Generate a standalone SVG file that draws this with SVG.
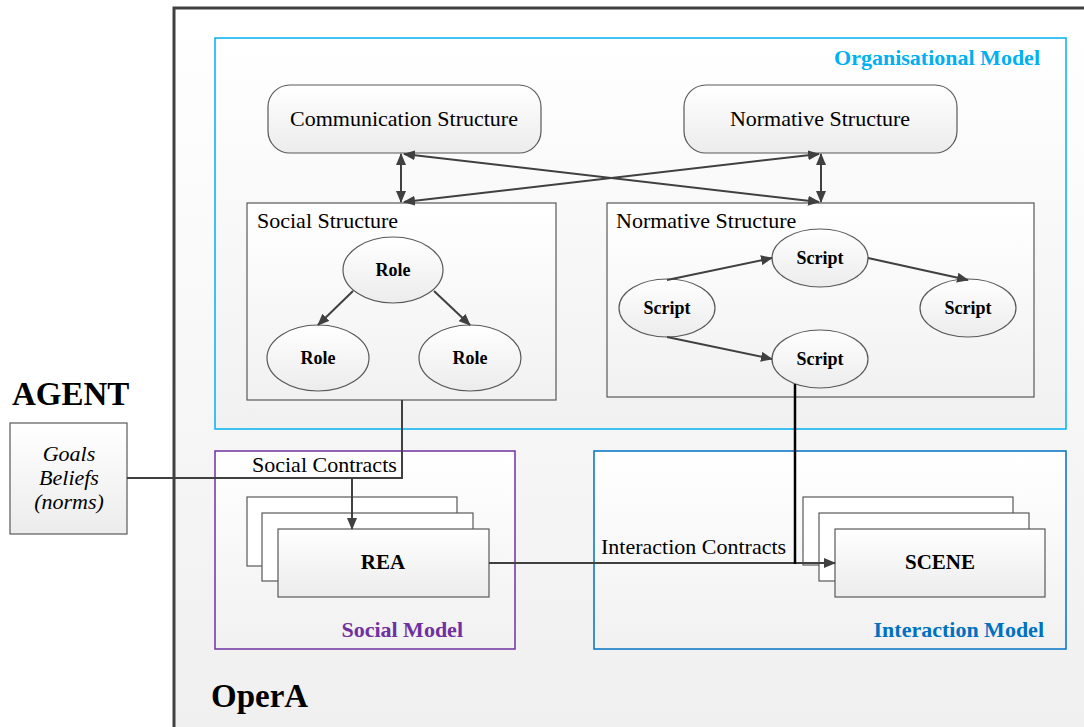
<svg xmlns="http://www.w3.org/2000/svg" width="1084" height="727" viewBox="0 0 1084 727">
<defs>
<linearGradient id="gBg" x1="0" y1="0" x2="0" y2="1"><stop offset="0" stop-color="#ffffff"/><stop offset="1" stop-color="#eeeeee"/></linearGradient>
<linearGradient id="gNode" x1="0" y1="0" x2="0" y2="1"><stop offset="0" stop-color="#ffffff"/><stop offset="1" stop-color="#ececec"/></linearGradient>
<linearGradient id="gPanel" x1="0" y1="0" x2="0" y2="1"><stop offset="0" stop-color="#ffffff"/><stop offset="1" stop-color="#f1f1f1"/></linearGradient>
<marker id="ah" viewBox="0 0 12 10" refX="11" refY="5" markerWidth="12" markerHeight="10" markerUnits="userSpaceOnUse" orient="auto-start-reverse"><path d="M0,0 L12,5 L0,10 Z" fill="#404040"/></marker>
<style>
.t{font-family:"Liberation Serif","Times New Roman",serif;fill:#000}
.n{font-size:22px}
.b{font-weight:bold}
.node{fill:url(#gNode);stroke:#595959;stroke-width:1.2}
.panel{fill:url(#gPanel);stroke:#595959;stroke-width:1.2}
.conn{fill:none;stroke:#404040;stroke-width:2}
.arr{fill:none;stroke:#404040;stroke-width:2;marker-end:url(#ah)}
.darr{fill:none;stroke:#404040;stroke-width:2;marker-start:url(#ah);marker-end:url(#ah)}
</style>
</defs>
<rect width="1084" height="727" fill="#ffffff"/>
<g id="opera">
<rect x="174" y="8" width="1000" height="800" fill="url(#gBg)" stroke="#404040" stroke-width="3"/>
<text class="t b" x="211" y="707" font-size="33">OperA</text>
</g>
<g id="organisational-model">
<rect x="215" y="38" width="851" height="391" fill="url(#gPanel)" stroke="#00B0F0" stroke-width="1.5"/>
<text class="t b" x="1040" y="65" font-size="22" text-anchor="end" style="fill:#00B0F0">Organisational Model</text>
</g>
<g id="communication-structure">
<rect class="node" x="268" y="85" width="273" height="68" rx="22"/>
<text class="t n" x="404" y="126" text-anchor="middle">Communication Structure</text>
</g>
<g id="normative-structure-top">
<rect class="node" x="684" y="85" width="273" height="68" rx="22"/>
<text class="t n" x="820" y="126" text-anchor="middle">Normative Structure</text>
</g>
<g id="social-structure">
<rect class="panel" x="247" y="203" width="309" height="197"/>
<text class="t n" x="257" y="228">Social Structure</text>
</g>
<g id="normative-structure">
<rect class="panel" x="607" y="203" width="427" height="194"/>
<text class="t n" x="616" y="228">Normative Structure</text>
</g>
<g id="role-top"><ellipse class="node" cx="393" cy="270" rx="50" ry="33"/><text class="t b" x="393" y="276" font-size="18" text-anchor="middle">Role</text></g>
<g id="role-left"><ellipse class="node" cx="318" cy="358" rx="51" ry="33"/><text class="t b" x="318" y="364" font-size="18" text-anchor="middle">Role</text></g>
<g id="role-right"><ellipse class="node" cx="470" cy="358" rx="51" ry="33"/><text class="t b" x="470" y="364" font-size="18" text-anchor="middle">Role</text></g>
<g id="script-left"><ellipse class="node" cx="667" cy="308" rx="48" ry="29"/><text class="t b" x="667" y="314" font-size="18" text-anchor="middle">Script</text></g>
<g id="script-top"><ellipse class="node" cx="820" cy="258" rx="48" ry="29"/><text class="t b" x="820" y="264" font-size="18" text-anchor="middle">Script</text></g>
<g id="script-right"><ellipse class="node" cx="968" cy="308" rx="48" ry="29"/><text class="t b" x="968" y="314" font-size="18" text-anchor="middle">Script</text></g>
<g id="script-bottom"><ellipse class="node" cx="820" cy="359" rx="48" ry="29"/><text class="t b" x="820" y="365" font-size="18" text-anchor="middle">Script</text></g>
<g id="agent">
<text class="t b" x="12" y="405" font-size="33">AGENT</text>
<rect class="node" x="10" y="423" width="117" height="111"/>
<text class="t n" x="69" y="461" font-style="italic" text-anchor="middle">Goals</text>
<text class="t n" x="69" y="485" font-style="italic" text-anchor="middle">Beliefs</text>
<text class="t n" x="69" y="509" font-style="italic" text-anchor="middle">(norms)</text>
</g>
<g id="social-model">
<rect x="215" y="451" width="300" height="198" fill="url(#gPanel)" stroke="#7030A0" stroke-width="1.5"/>
<text class="t b" x="463" y="637" font-size="22" text-anchor="end" style="fill:#7030A0">Social Model</text>
</g>
<g id="rea">
<rect x="247" y="497" width="210" height="69" fill="#ffffff" stroke="#595959" stroke-width="1.2"/>
<rect x="262" y="513" width="211" height="68" fill="#ffffff" stroke="#595959" stroke-width="1.2"/>
<rect class="node" x="278" y="529" width="211" height="68"/>
<text class="t b" x="383" y="569" font-size="21" text-anchor="middle">REA</text>
</g>
<g id="interaction-model">
<rect x="594" y="451" width="472" height="198" fill="url(#gPanel)" stroke="#0070C0" stroke-width="1.5"/>
<text class="t b" x="1044" y="637" font-size="22" text-anchor="end" style="fill:#0070C0">Interaction Model</text>
</g>
<g id="scene">
<rect x="803" y="497" width="210" height="68" fill="#ffffff" stroke="#595959" stroke-width="1.2"/>
<rect x="819" y="513" width="210" height="68" fill="#ffffff" stroke="#595959" stroke-width="1.2"/>
<rect class="node" x="835" y="529" width="210" height="68"/>
<text class="t b" x="940" y="569" font-size="21" text-anchor="middle">SCENE</text>
</g>
<g id="connectors">
<line class="darr" x1="401" y1="154" x2="401" y2="202"/>
<line class="darr" x1="821" y1="154" x2="821" y2="202"/>
<line class="darr" x1="404" y1="154" x2="819" y2="202"/>
<line class="darr" x1="819" y1="154" x2="404" y2="202"/>
<line class="arr" x1="353" y1="291" x2="318" y2="325"/>
<line class="arr" x1="434" y1="291" x2="470" y2="325"/>
<line class="arr" x1="667" y1="280" x2="772" y2="258"/>
<line class="arr" x1="868" y1="258" x2="968" y2="280"/>
<line class="arr" x1="667" y1="337" x2="772" y2="359"/>
<polyline class="conn" points="402,400 402,478 127,478"/>
<line class="arr" x1="352" y1="478" x2="352" y2="529"/>
<text class="t n" x="252" y="472">Social Contracts</text>
<line class="arr" x1="489" y1="563" x2="835" y2="563"/>
<line x1="795" y1="384" x2="795" y2="564" stroke="#000000" stroke-width="2.5"/>
<text class="t n" x="601" y="554">Interaction Contracts</text>
</g>
</svg>
